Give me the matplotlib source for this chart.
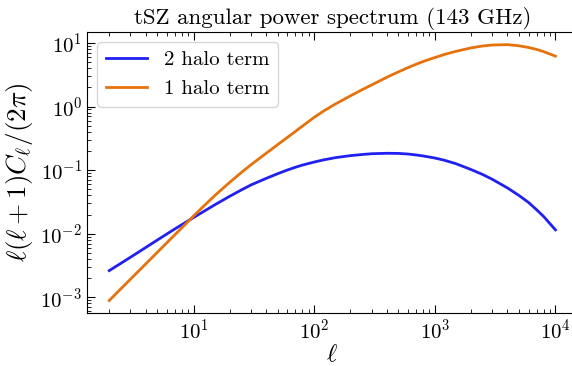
import matplotlib
matplotlib.use('Agg')
import matplotlib.pyplot as plt

plt.rcParams['font.family'] = 'serif'
plt.rcParams['font.serif'] = ['cmr10']
plt.rcParams['mathtext.fontset'] = 'cm'
plt.rcParams['axes.formatter.use_mathtext'] = True

ell = [2, 2.5, 3, 4, 5, 6, 7, 8, 10, 12, 15, 20, 25, 30, 40, 50, 60, 70, 80,
       100, 120, 150, 200, 250, 300, 400, 500, 600, 700, 800, 1000, 1200,
       1500, 2000, 2500, 3000, 4000, 5000, 6000, 7000, 8000, 10000]

two_halo = [0.00263, 0.00343, 0.00427, 0.00605, 0.00794, 0.00989, 0.0119,
            0.0139, 0.0180, 0.0221, 0.0285, 0.0389, 0.0490, 0.0586, 0.0741,
            0.0881, 0.1005, 0.111, 0.120, 0.134, 0.145, 0.157, 0.169, 0.176,
            0.181, 0.184, 0.183, 0.179, 0.173, 0.167, 0.155, 0.143, 0.126,
            0.102, 0.0851, 0.0716, 0.0525, 0.0398, 0.0309, 0.0237, 0.0186,
            0.0115]

one_halo = [8.91e-4, 1.365e-3, 1.93e-3, 3.33e-3, 5.09e-3, 7.19e-3, 9.64e-3,
            1.24e-2, 1.90e-2, 2.66e-2, 3.98e-2, 6.46e-2, 9.23e-2, 0.122,
            0.184, 0.253, 0.327, 0.407, 0.493, 0.676, 0.851, 1.096, 1.472,
            1.841, 2.188, 2.884, 3.508, 4.093, 4.624, 5.105, 5.888, 6.577,
            7.379, 8.356, 8.954, 9.268, 9.397, 9.016, 8.472, 7.889, 7.295,
            6.194]

fig = plt.figure(figsize=(5.72, 3.66), dpi=100)
ax = fig.add_axes([0.152, 0.144, 0.858, 0.769])

ax.plot(ell, two_halo, color='#2020f2', lw=2, label='2 halo term')
ax.plot(ell, one_halo, color='#e6720e', lw=2, label='1 halo term')

ax.set_xscale('log')
ax.set_yscale('log')

ax.set_title('tSZ angular power spectrum (143 GHz)', fontsize=16.5)
ax.set_xlabel(r'$\ell$', fontsize=18, labelpad=1)
ax.set_ylabel(r'$\ell(\ell+1)C_\ell/(2\pi)$', fontsize=19.5)

# the reference is cut off on the right, so no right spine shows
ax.spines['right'].set_visible(False)
ax.tick_params(which='both', direction='in', top=True, right=False, labelsize=15)
ax.tick_params(which='major', length=6)
ax.tick_params(which='minor', length=3)

ax.legend(loc='upper left', fontsize=15)

fig.savefig('out.png', dpi=100)
